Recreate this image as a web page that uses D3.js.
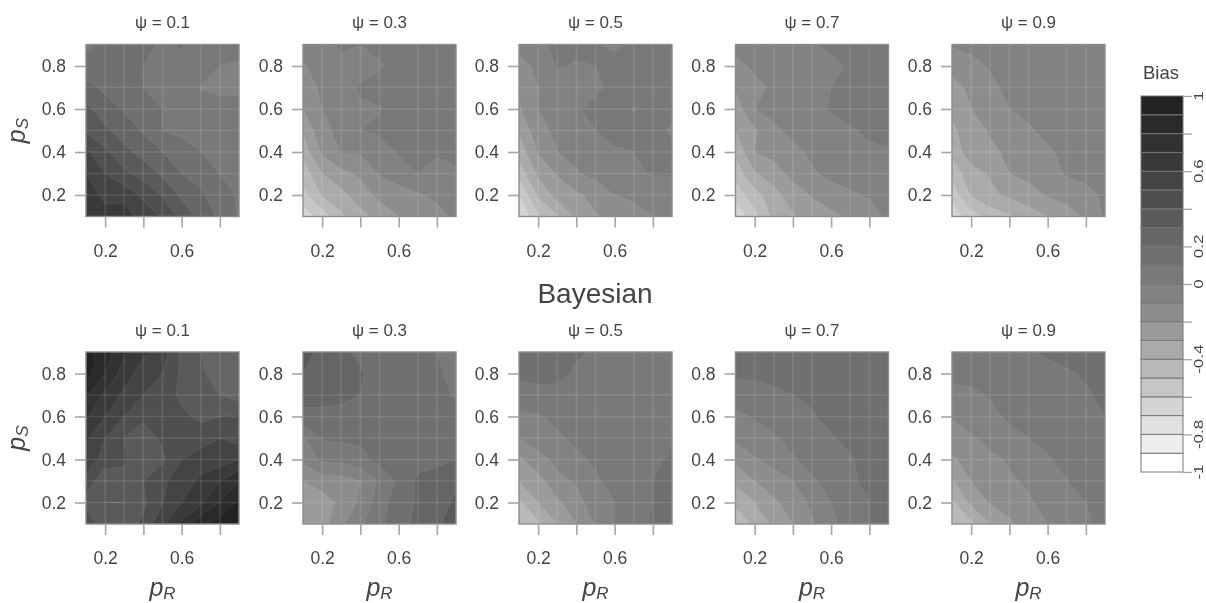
<!DOCTYPE html>
<html>
<head>
<meta charset="utf-8">
<script src="https://cdn.jsdelivr.net/npm/d3@7"></script>
<style>
  html, body { margin: 0; padding: 0; background: #fff; overflow: hidden; }
  svg { display: block; filter: blur(0.6px); font-family: "Liberation Sans", Arial, sans-serif; }
</style>
</head>
<body>
<svg id="chart" width="1206" height="603"></svg>
<script>
// grid of each panel, rows run from pS = 0.9 down to pS = 0.1, columns from pR = 0.1 to 0.9
const gridAxis = [0.1, 0.2, 0.3, 0.4, 0.5, 0.6, 0.7, 0.8, 0.9];
const psi = ["0.1", "0.3", "0.5", "0.7", "0.9"];

const topRow = [
  [ // psi 0.1
    .08, .12, .14, .12, .09, .11, .05, .05, .03,
    .14, .11, .11, .10, .08, .07, .05, .00, -.01,
    .23, .18, .15, .10, .08, .07, -.005, -.03, -.03,
    .33, .24, .19, .15, .10, .08, .07, .05, .05,
    .39, .32, .25, .19, .10, .08, .07, .06, .06,
    .52, .42, .33, .26, .20, .14, .10, .08, .06,
    .60, .50, .42, .36, .28, .20, .16, .10, .07,
    .72, .55, .56, .48, .39, .28, .22, .14, .09,
    .62, .67, .66, .55, .49, .37, .27, .18, .09
  ],
  [ // psi 0.3
    -.06, -.05, .02, .00, .03, .04, .04, .04, .04,
    -.11, -.06, -.03, -.03, -.01, .03, .04, .04, .04,
    -.15, -.08, -.03, .01, .03, .04, .04, .04, .04,
    -.20, -.10, -.05, -.01, -.005, .03, .04, .04, .04,
    -.29, -.12, -.08, .00, .02, .03, .03, .03, .03,
    -.36, -.18, -.09, -.09, -.05, .01, .02, .01, .02,
    -.46, -.30, -.23, -.18, -.09, -.05, .00, -.03, -.01,
    -.53, -.39, -.33, -.25, -.17, -.14, -.11, -.08, -.01,
    -.66, -.56, -.42, -.33, -.27, -.20, -.17, -.13, -.08
  ],
  [ // psi 0.5
    -.07, -.03, .03, .03, .01, -.02, .02, .04, .05,
    -.13, -.08, .01, -.01, .00, .04, .05, .05, .05,
    -.19, -.10, -.06, -.04, -.02, .03, .05, .06, .05,
    -.21, -.10, -.05, -.01, .03, .05, -.01, .06, .05,
    -.29, -.13, -.08, -.04, .00, .03, .05, .04, -.02,
    -.36, -.19, -.10, -.07, -.04, -.01, .00, .04, .04,
    -.46, -.28, -.19, -.11, -.07, -.05, -.02, .01, .01,
    -.60, -.38, -.26, -.22, -.16, -.10, -.08, -.09, -.06,
    -.70, -.52, -.41, -.28, -.21, -.17, -.14, -.10, -.07
  ],
  [ // psi 0.7
    -.06, -.05, -.04, -.03, -.01, .02, .04, .05, .05,
    -.13, -.08, -.06, -.05, -.04, -.02, .01, .05, .05,
    -.19, -.13, -.08, -.06, -.03, .00, .03, .05, .05,
    -.25, -.10, -.07, -.05, -.03, .01, .04, .05, .05,
    -.30, -.21, -.12, -.07, -.05, -.03, -.01, .02, .04,
    -.38, -.20, -.17, -.13, -.08, -.05, -.04, -.02, -.01,
    -.46, -.31, -.24, -.17, -.11, -.08, -.07, -.05, -.04,
    -.56, -.44, -.34, -.25, -.19, -.13, -.11, -.09, -.06,
    -.68, -.53, -.37, -.31, -.27, -.23, -.18, -.14, -.08
  ],
  [ // psi 0.9
    -.09, -.07, -.06, -.05, -.05, -.04, -.04, -.04, -.04,
    -.17, -.13, -.09, -.07, -.06, -.05, -.05, -.05, -.05,
    -.23, -.18, -.12, -.08, -.07, -.06, -.05, -.05, -.05,
    -.28, -.20, -.15, -.10, -.08, -.07, -.06, -.05, -.05,
    -.32, -.24, -.19, -.15, -.11, -.08, -.06, -.05, -.05,
    -.37, -.24, -.22, -.18, -.15, -.11, -.08, -.06, -.05,
    -.46, -.34, -.29, -.20, -.17, -.14, -.09, -.07, -.06,
    -.56, -.39, -.32, -.28, -.24, -.19, -.16, -.13, -.08,
    -.66, -.55, -.46, -.41, -.35, -.30, -.25, -.18, -.09
  ]
];

const bayesianRow = [
  [ // psi 0.1
    .95, .85, .72, .62, .55, .38, .30, .22, .22,
    .95, .80, .65, .55, .50, .38, .32, .24, .24,
    .82, .68, .58, .50, .45, .38, .33, .30, .25,
    .72, .60, .50, .42, .45, .42, .38, .40, .42,
    .62, .50, .40, .35, .42, .45, .45, .50, .45,
    .58, .45, .42, .30, .38, .50, .55, .55, .60,
    .45, .33, .36, .40, .48, .55, .62, .70, .80,
    .38, .30, .30, .38, .50, .60, .68, .80, .92,
    .45, .35, .35, .42, .58, .72, .88, .95, .98
  ],
  [ // psi 0.3
    .34, .27, .22, .18, .17, .17, .15, .10, .08,
    .30, .25, .24, .21, .16, .15, .15, .11, .08,
    .24, .24, .23, .20, .20, .17, .15, .13, .09,
    .17, .17, .16, .15, .15, .15, .15, .14, .14,
    -.01, .11, .12, .12, .14, .14, .14, .15, .15,
    -.07, .02, .03, .07, .13, .15, .16, .18, .20,
    -.20, -.15, -.14, -.10, .02, .12, .22, .24, .28,
    -.25, -.25, -.17, -.08, .06, .15, .21, .25, .32,
    -.20, -.24, -.12, -.02, .08, .16, .23, .28, .36
  ],
  [ // psi 0.5
    .16, .15, .13, .11, .09, .07, .07, .07, .07,
    .12, .12, .12, .09, .08, .07, .07, .07, .07,
    .06, .08, .08, .08, .07, .07, .07, .07, .07,
    -.02, -.01, .03, .06, .07, .07, .07, .07, .07,
    -.10, -.05, -.02, .03, .05, .07, .07, .08, .08,
    -.22, -.13, -.08, -.03, .02, .05, .07, .09, .11,
    -.30, -.24, -.12, -.09, -.02, .04, .07, .10, .12,
    -.42, -.30, -.22, -.13, -.05, .00, .08, .10, .12,
    -.50, -.42, -.30, -.20, -.09, .00, .07, .11, .13
  ],
  [ // psi 0.7
    .16, .16, .15, .14, .15, .15, .14, .14, .14,
    .12, .12, .13, .14, .13, .14, .15, .15, .15,
    .04, .06, .08, .10, .12, .14, .15, .16, .16,
    -.02, .01, .04, .07, .09, .13, .15, .15, .15,
    -.08, -.04, -.01, .03, .06, .09, .13, .15, .15,
    -.17, -.11, -.07, -.01, .03, .07, .09, .14, .15,
    -.28, -.20, -.14, -.10, -.01, .03, .08, .13, .15,
    -.38, -.30, -.22, -.15, -.08, .00, .05, .10, .14,
    -.46, -.38, -.28, -.20, -.11, -.02, .04, .10, .15
  ],
  [ // psi 0.9
    .05, .05, .06, .07, .09, .11, .13, .13, .13,
    .03, .03, .05, .07, .08, .08, .09, .11, .13,
    -.03, -.02, .01, .04, .06, .07, .08, .09, .12,
    -.09, -.05, -.03, .02, .04, .06, .07, .08, .10,
    -.15, -.11, -.07, -.03, .00, .03, .05, .07, .08,
    -.21, -.17, -.12, -.09, -.05, -.01, .03, .05, .06,
    -.31, -.20, -.16, -.11, -.09, -.05, .00, .03, .04,
    -.42, -.28, -.19, -.15, -.11, -.07, -.03, .00, .03,
    -.52, -.42, -.30, -.22, -.14, -.10, -.06, -.01, .02
  ]
];

// one grey per band of the colour key, from -1 upward
const bandGreys = [255, 238, 225, 212, 198, 185, 170, 155, 141, 130, 121, 112, 102, 90, 79, 68, 58, 50, 42, 35];
const bandLevels = d3.range(20).map(i => -1 + i * 0.1);

const xTicks = [0.2, 0.4, 0.6, 0.8];
const xTickLabels = ["0.2", "", "0.6", ""];
const yTicks = [0.2, 0.4, 0.6, 0.8];
const keyTicks = [1, 0.8, 0.6, 0.4, 0.2, 0, -0.2, -0.4, -0.6, -0.8, -1];
const keyLabels = ["1", "", "0.6", "", "0.2", "0", "", "-0.4", "", "-0.8", "-1"];

// faint light lines that cross every panel
const gridX = [0.2, 0.3, 0.4, 0.5, 0.7, 0.8];
const gridY = [0.2, 0.3, 0.4, 0.5, 0.6, 0.7];

const panelLefts = [86, 303, 519, 735.5, 952];
const panelWidth = 153;
const rowTops = [44.5, 352];
const panelHeight = 172;
const inkColor = "#444";
const axisColor = "#a5a5a5";

const svg = d3.select("#chart");
const grey = g => `rgb(${g},${g},${g})`;
const contours = d3.contours().size([gridAxis.length, gridAxis.length]).thresholds(bandLevels);

function drawPanel(values, left, top, psiLabel, id, showY, showX) {
  const x = d3.scaleLinear().domain([0.1, 0.9]).range([0, panelWidth]);
  const y = d3.scaleLinear().domain([0.1, 0.9]).range([panelHeight, 0]);

  const g = svg.append("g").attr("transform", `translate(${left},${top})`);

  g.append("clipPath").attr("id", id)
    .append("rect").attr("width", panelWidth).attr("height", panelHeight);

  // contour grid coordinates: grid point i sits at i + 0.5
  const path = d3.geoPath(d3.geoTransform({
    point(cx, cy) {
      this.stream.point(x(0.1 + (cx - 0.5) * 0.1), y(0.9 - (cy - 0.5) * 0.1));
    }
  }));

  g.append("g").attr("clip-path", `url(#${id})`)
    .selectAll("path")
    .data(contours(values))
    .join("path")
    .attr("d", path)
    .attr("fill", (d, i) => grey(bandGreys[i]))
    .attr("stroke", "#fff")
    .attr("stroke-opacity", 0.1)
    .attr("stroke-width", 0.7);

  g.selectAll("line.gx").data(gridX).join("line").attr("class", "gx")
    .attr("x1", d => x(d)).attr("x2", d => x(d))
    .attr("y1", 0).attr("y2", panelHeight)
    .attr("stroke", "#fff").attr("stroke-opacity", 0.11).attr("stroke-width", 1.6);
  g.selectAll("line.gy").data(gridY).join("line").attr("class", "gy")
    .attr("y1", d => y(d)).attr("y2", d => y(d))
    .attr("x1", 0).attr("x2", panelWidth)
    .attr("stroke", "#fff").attr("stroke-opacity", 0.11).attr("stroke-width", 1.6);

  g.append("rect")
    .attr("width", panelWidth).attr("height", panelHeight)
    .attr("fill", "none").attr("stroke", "#8c8c8c").attr("stroke-width", 1.4);

  // axes, R style: long ticks and labels well away from the box
  const xAxis = g.append("g").attr("transform", `translate(0,${panelHeight})`)
    .call(d3.axisBottom(x).tickValues(xTicks).tickSize(11).tickPadding(17)
      .tickFormat((d, i) => xTickLabels[i]));
  const yAxis = g.append("g")
    .call(d3.axisLeft(y).tickValues(yTicks).tickSize(11).tickPadding(9)
      .tickFormat(d3.format(".1f")));
  [xAxis, yAxis].forEach(a => {
    a.select(".domain").remove();
    a.selectAll("line").attr("stroke", axisColor).attr("stroke-width", 1.6);
    a.selectAll("text")
      .attr("fill", inkColor)
      .style("font-size", "17.5px")
      .style("font-family", "'Liberation Sans', Arial, sans-serif");
  });

  g.append("text")
    .attr("x", panelWidth / 2).attr("y", -16.5)
    .attr("text-anchor", "middle")
    .attr("fill", inkColor)
    .style("font-size", "17px")
    .text(`ψ = ${psiLabel}`);

  if (showY) {
    const t = g.append("text")
      .attr("transform", `translate(-61,${panelHeight / 2}) rotate(-90)`)
      .attr("text-anchor", "middle")
      .attr("fill", inkColor)
      .style("font-style", "italic")
      .style("font-size", "25px");
    t.append("tspan").text("p");
    t.append("tspan").attr("dy", 3).style("font-size", "17px").text("S");
  }
  if (showX) {
    const t = g.append("text")
      .attr("x", panelWidth / 2).attr("y", panelHeight + 71.5)
      .attr("text-anchor", "middle")
      .attr("fill", inkColor)
      .style("font-style", "italic")
      .style("font-size", "25px");
    t.append("tspan").text("p");
    t.append("tspan").attr("dy", 3).style("font-size", "17px").text("R");
  }
}

topRow.forEach((values, i) =>
  drawPanel(values, panelLefts[i], rowTops[0], psi[i], "top" + i, i === 0, false));
bayesianRow.forEach((values, i) =>
  drawPanel(values, panelLefts[i], rowTops[1], psi[i], "bay" + i, i === 0, true));

svg.append("text")
  .attr("x", 595).attr("y", 303)
  .attr("text-anchor", "middle")
  .attr("fill", inkColor)
  .style("font-size", "28px")
  .text("Bayesian");

// colour key
const keyX = 1141, keyWidth = 42;
const keyScale = d3.scaleLinear().domain([-1, 1]).range([472, 96]);
const key = svg.append("g");

key.selectAll("rect")
  .data(bandLevels)
  .join("rect")
  .attr("x", keyX)
  .attr("y", d => keyScale(d + 0.1))
  .attr("width", keyWidth)
  .attr("height", d => keyScale(d) - keyScale(d + 0.1))
  .attr("fill", (d, i) => grey(bandGreys[i]))
  .attr("stroke", "#777")
  .attr("stroke-width", 1);

const keyAxis = key.append("g").attr("transform", `translate(${keyX + keyWidth},0)`)
  .call(d3.axisRight(keyScale).tickValues(keyTicks).tickSize(9).tickFormat(""));
keyAxis.select(".domain").remove();
keyAxis.selectAll("line").attr("stroke", axisColor).attr("stroke-width", 1.3);

// labels squeezed across their height so they stay inside the page, as in the reference
key.selectAll("text.lab")
  .data(keyTicks)
  .join("text")
  .attr("class", "lab")
  .attr("transform", d => `translate(1203,${keyScale(d)}) rotate(-90) scale(1,0.75)`)
  .attr("text-anchor", "middle")
  .attr("fill", inkColor)
  .style("font-size", "17px")
  .text((d, i) => keyLabels[i]);

svg.append("text")
  .attr("x", 1143).attr("y", 79)
  .attr("fill", inkColor)
  .style("font-size", "18.5px")
  .text("Bias");
</script>
</body>
</html>
